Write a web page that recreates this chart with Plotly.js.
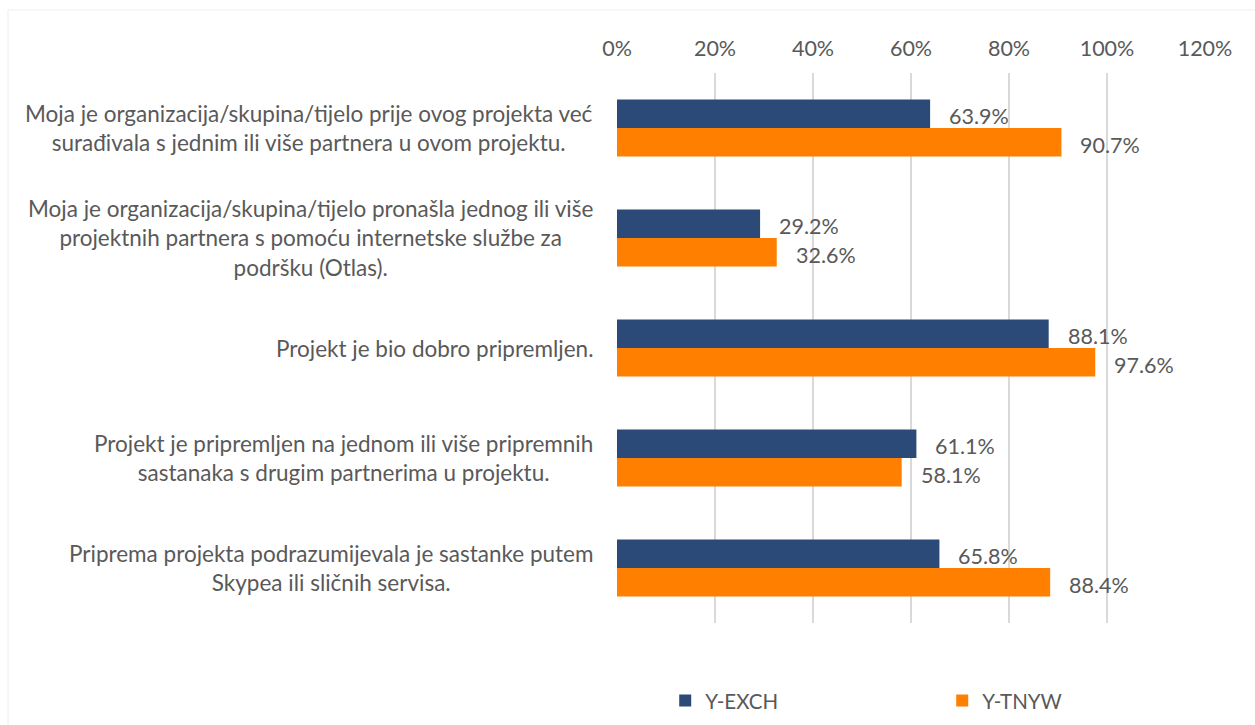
<!DOCTYPE html>
<html>
<head>
<meta charset="utf-8">
<script src="https://cdn.plot.ly/plotly-3.0.1.min.js"></script>
<style>html,body{margin:0;padding:0;background:#fff;}#chart{width:1255px;height:725px;}</style>
</head>
<body>
<div id="chart"></div>
<script>
var categories = [
  "Moja je organizacija/skupina/tijelo prije ovog projekta već<br>surađivala s jednim ili više partnera u ovom projektu.",
  "Moja je organizacija/skupina/tijelo pronašla jednog ili više<br>projektnih partnera s pomoću internetske službe za<br>podršku (Otlas).",
  "Projekt je bio dobro pripremljen.",
  "Projekt je pripremljen na jednom ili više pripremnih<br>sastanaka s drugim partnerima u projektu.",
  "Priprema projekta podrazumijevala je sastanke putem<br>Skypea ili sličnih servisa."
];
var catKeys = ["c1", "c2", "c3", "c4", "c5"];
var seriesNames = ["Y-EXCH", "Y-TNYW"];
var yExch = [63.9, 29.2, 88.1, 61.1, 65.8];
var yTnyw = [90.7, 32.6, 97.6, 58.1, 88.4];
var xTicks = [0, 20, 40, 60, 80, 100, 120];

var FONT = "Lato, 'Open Sans', sans-serif";
var TXT = "#595959";
var colors = ["#2c4a77", "#ff7f00"];
var seriesVals = [yExch, yTnyw];

var traces = seriesVals.map(function (vals, i) {
  return {
    type: "bar",
    orientation: "h",
    name: seriesNames[i],
    x: vals,
    y: catKeys,
    marker: { color: colors[i], line: { width: 0 } },
    hoverinfo: "x+name"
  };
});

var annotations = [];
categories.forEach(function (c, j) {
  annotations.push({
    xref: "paper", yref: "y", x: 0, y: catKeys[j],
    xanchor: "right", yanchor: "middle", xshift: -22, align: "center",
    text: c, showarrow: false,
    font: { family: FONT, size: 22.5, color: TXT }
  });
});
seriesVals.forEach(function (vals, i) {
  vals.forEach(function (v, j) {
    annotations.push({
      xref: "x", yref: "y", x: v, y: catKeys[j],
      xanchor: "left", yanchor: "middle", xshift: 17, yshift: i === 0 ? 12 : -17,
      text: v.toFixed(1) + "%", showarrow: false,
      font: { family: FONT, size: 21.5, color: TXT }
    });
  });
});

var layout = {
  width: 1255, height: 725,
  margin: { l: 617, r: 50, t: 73, b: 102, pad: 0, autoexpand: false },
  paper_bgcolor: "#ffffff", plot_bgcolor: "#ffffff",
  font: { family: FONT, size: 21.5, color: TXT },
  barmode: "group",
  bargap: 0.48, bargroupgap: 0,
  showlegend: true,
  legend: {
    orientation: "h", x: 0.082, xref: "paper", y: -0.105, yanchor: "top",
    entrywidth: 232, entrywidthmode: "pixels",
    font: { family: FONT, size: 20.5, color: TXT },
    traceorder: "normal"
  },
  xaxis: {
    side: "top", range: [0, 120], tickvals: xTicks,
    ticktext: xTicks.map(function (t) { return t + "%"; }),
    showgrid: true, gridcolor: "#d9d9d9", gridwidth: 1.5,
    zeroline: false, showline: false, ticks: "",
    ticklabelstandoff: 12,
    tickfont: { family: FONT, size: 21.5, color: TXT },
    fixedrange: true
  },
  yaxis: {
    type: "category", autorange: "reversed",
    showticklabels: false, showgrid: false, zeroline: false, showline: false, ticks: "",
    fixedrange: true
  },
  annotations: annotations,
  shapes: [{
    type: "rect", xref: "paper", yref: "paper",
    x0: -609 / 588, x1: 1260 / 588 - 617 / 588, y0: -1, y1: 1 + 63 / 550,
    line: { color: "#eeeeee", width: 1 }, fillcolor: "rgba(0,0,0,0)", layer: "below"
  }]
};

Plotly.newPlot("chart", traces, layout, { displayModeBar: false, staticPlot: true });
</script>
</body>
</html>
